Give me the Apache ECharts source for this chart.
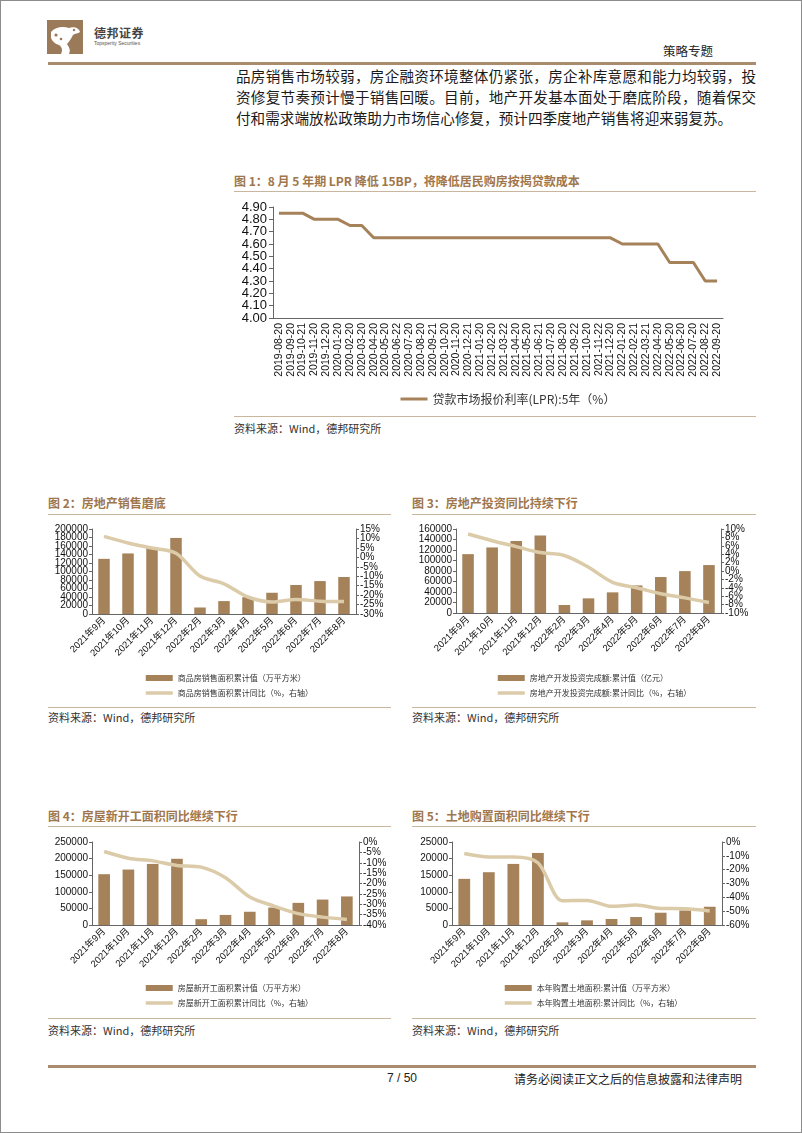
<!DOCTYPE html>
<html>
<head>
<meta charset="utf-8">
<script src="https://cdn.jsdelivr.net/npm/echarts@6/dist/echarts.min.js"></script>
<style>
  body { margin: 0; background: #fff; }
  #page { position: relative; width: 802px; height: 1133px; border: 1px solid #8c8c8c; box-sizing: border-box; overflow: hidden; font-family: 'Noto Sans CJK SC', sans-serif; color: #222; background: #fff; }
  .rule { position: absolute; height: 0; border-top: 3px solid #a98b6d; }
  .thin { position: absolute; height: 0; border-top: 1.5px solid #c9b69f; }
  .ftitle { position: absolute; font-size: 12px; font-weight: bold; color: #a0764c; white-space: nowrap; line-height: 14px; }
  .src { position: absolute; font-size: 11px; color: #333; line-height: 13px; white-space: nowrap; }
  .bline { position: absolute; left: 235px; width: 520px; font-size: 14.6px; line-height: 18px; color: #1a1a1a; }
  .just { text-align: justify; text-align-last: justify; }
  .chart { position: absolute; }
</style>
</head>
<body>
<div id="page">
  <!-- header -->
  <svg style="position:absolute;left:46px;top:19px" width="36" height="34" viewBox="0 0 36 34">
    <rect x="0" y="0" width="36" height="34" fill="#9b7a5a"/>
    <path d="M4 12 C8 7 16 6 22 8 C27 6 32 8 33 12 C31 14 28 13 26 15 C24 19 22 22 20 24 C22 27 24 30 22 34 L14 34 C16 30 15 27 12 25 C8 24 5 21 4 18 Z" fill="#fff"/>
    <circle cx="9" cy="15" r="1.6" fill="#9b7a5a"/>
    <circle cx="14" cy="19" r="1.3" fill="#9b7a5a"/>
    <circle cx="27" cy="10" r="1.2" fill="#9b7a5a"/>
  </svg>
  <div style="position:absolute;left:93px;top:25px;font-size:12px;font-weight:bold;color:#444;line-height:14px;letter-spacing:0.5px">德邦证券</div>
  <div style="position:absolute;left:93px;top:39px;font-size:5px;color:#555;line-height:6px;font-family:'Liberation Sans'">Topsperity Securities</div>
  <div style="position:absolute;left:662px;top:42px;font-size:12.5px;color:#222;line-height:15px">策略专题</div>
  <div class="rule" style="left:47px;top:61px;width:708px"></div>

  <div class="bline just" style="top:66px">品房销售市场较弱，房企融资环境整体仍紧张，房企补库意愿和能力均较弱，投</div>
  <div class="bline just" style="top:87px">资修复节奏预计慢于销售回暖。目前，地产开发基本面处于磨底阶段，随着保交</div>
  <div class="bline" style="top:108px">付和需求端放松政策助力市场信心修复，预计四季度地产销售将迎来弱复苏。</div>

  <!-- figure 1 -->
  <div class="ftitle" style="left:233px;top:173px">图 1：8 月 5 年期 LPR 降低 15BP，将降低居民购房按揭贷款成本</div>
  <div class="thin" style="left:233px;top:190px;width:522px"></div>
  <div id="c1" class="chart" style="left:225px;top:195px;width:540px;height:215px"></div>
  <div class="thin" style="left:233px;top:415px;width:522px"></div>
  <div class="src" style="left:233px;top:421px">资料来源：Wind，德邦研究所</div>

  <!-- figures 2 and 3 -->
  <div class="ftitle" style="left:47px;top:495px">图 2：房地产销售磨底</div>
  <div class="thin" style="left:47px;top:513px;width:343px"></div>
  <div id="c2" class="chart" style="left:40px;top:515px;width:360px;height:190px"></div>
  <div class="thin" style="left:47px;top:706px;width:343px"></div>
  <div class="src" style="left:47px;top:710px">资料来源：Wind，德邦研究所</div>

  <div class="ftitle" style="left:411px;top:495px">图 3：房地产投资同比持续下行</div>
  <div class="thin" style="left:411px;top:513px;width:344px"></div>
  <div id="c3" class="chart" style="left:405px;top:515px;width:370px;height:190px"></div>
  <div class="thin" style="left:411px;top:706px;width:344px"></div>
  <div class="src" style="left:411px;top:710px">资料来源：Wind，德邦研究所</div>

  <!-- figures 4 and 5 -->
  <div class="ftitle" style="left:47px;top:808px">图 4：房屋新开工面积同比继续下行</div>
  <div class="thin" style="left:47px;top:825px;width:343px"></div>
  <div id="c4" class="chart" style="left:40px;top:828px;width:360px;height:185px"></div>
  <div class="thin" style="left:47px;top:1017px;width:343px"></div>
  <div class="src" style="left:47px;top:1023px">资料来源：Wind，德邦研究所</div>

  <div class="ftitle" style="left:411px;top:808px">图 5：土地购置面积同比继续下行</div>
  <div class="thin" style="left:411px;top:825px;width:344px"></div>
  <div id="c5" class="chart" style="left:405px;top:828px;width:370px;height:185px"></div>
  <div class="thin" style="left:411px;top:1017px;width:344px"></div>
  <div class="src" style="left:411px;top:1023px">资料来源：Wind，德邦研究所</div>

  <!-- footer -->
  <div class="rule" style="left:47px;top:1064px;width:708px"></div>
  <div style="position:absolute;left:386px;top:1070px;font-size:12px;line-height:15px;font-family:'Liberation Sans';color:#222">7 / 50</div>
  <div style="position:absolute;left:513px;top:1070px;font-size:12px;line-height:15px;color:#222">请务必阅读正文之后的信息披露和法律声明</div>
</div>

<script>
// 图1 LPR
const lprDates = ['2019-08-20','2019-09-20','2019-10-21','2019-11-20','2019-12-20','2020-01-20','2020-02-20','2020-03-20',
  '2020-04-20','2020-05-20','2020-06-22','2020-07-20','2020-08-20','2020-09-21','2020-10-20','2020-11-20','2020-12-21',
  '2021-01-20','2021-02-20','2021-03-22','2021-04-20','2021-05-20','2021-06-21','2021-07-20','2021-08-20','2021-09-22',
  '2021-10-20','2021-11-22','2021-12-20','2022-01-20','2022-02-21','2022-03-21','2022-04-20','2022-05-20','2022-06-20',
  '2022-07-20','2022-08-22','2022-09-20'];
const lprValues = [4.85,4.85,4.85,4.80,4.80,4.80,4.75,4.75,
  4.65,4.65,4.65,4.65,4.65,4.65,4.65,4.65,4.65,
  4.65,4.65,4.65,4.65,4.65,4.65,4.65,4.65,4.65,
  4.65,4.65,4.65,4.60,4.60,4.60,4.60,4.45,4.45,
  4.45,4.30,4.30];
const lprTicks = [4.00,4.10,4.20,4.30,4.40,4.50,4.60,4.70,4.80,4.90];

// 图2-5 共用月份
const months = ['2021年9月','2021年10月','2021年11月','2021年12月','2022年2月','2022年3月',
  '2022年4月','2022年5月','2022年6月','2022年7月','2022年8月'];

const salesArea = [129800,142500,156700,179000,15300,30400,39500,50000,68200,77500,87000];
const salesYoy = [11.1,7.6,4.9,2.2,-9.9,-14.0,-21.0,-23.6,-22.3,-23.2,-23.4];
const salesTicksL = [0,20000,40000,60000,80000,100000,120000,140000,160000,180000,200000];
const salesTicksR = [-30,-25,-20,-15,-10,-5,0,5,10,15];

const investAmount = [112100,124900,137000,147400,15200,27900,39300,52500,68500,79800,91300];
const investYoy = [8.8,7.2,5.8,4.4,3.7,0.9,-2.7,-4.0,-5.4,-6.4,-7.5];
const investTicksL = [0,20000,40000,60000,80000,100000,120000,140000,160000];
const investTicksR = [-10,-8,-6,-4,-2,0,2,4,6,8,10];

const startArea = [153000,167000,184000,199500,17500,30300,39900,52600,66700,76600,86000];
const startYoy = [-4.6,-7.8,-9.1,-11.3,-12.1,-17.2,-26.5,-30.9,-34.5,-36.2,-37.3];
const startTicksL = [0,50000,100000,150000,200000,250000];
const startTicksR = [-40,-35,-30,-25,-20,-15,-10,-5,0];

const landArea = [13900,15900,18400,21700,800,1400,1800,2400,3700,4400,5500];
const landYoy = [-8.3,-10.8,-10.8,-15.0,-42.5,-42.2,-46.5,-45.5,-48.0,-48.2,-49.8];
const landTicksL = [0,5000,10000,15000,20000,25000];
const landTicksR = [-60,-50,-40,-30,-20,-10,0];

const BROWN = '#a5825a';
const BEIGE = '#dccba9';
const AXIS = '#666';
const NUM_FONT = "'Liberation Sans', Arial, sans-serif";
const CJK_FONT = "'Noto Sans CJK SC', sans-serif";

// legend entry for a plain line, without the marker circle
const lineLegend = (name, color, width) => ({
  name: name,
  itemStyle: { opacity: 0 },
  lineStyle: { color: color, width: width }
});

// Labels here sit closer than their own height, and ECharts drops some of them.
// Two stacked axes with the same scale: one labels the even ticks, the other the odd ones.
function pairedAxes(ticks, pos, fmt, fontSize, margin, tickLen) {
  const label = {
    fontSize: fontSize, color: '#111', fontFamily: NUM_FONT, margin: margin,
    formatter: fmt, showMinLabel: true, showMaxLabel: true, hideOverlap: false
  };
  const base = {
    type: 'value', position: pos,
    min: ticks[0], max: ticks[ticks.length - 1],
    splitLine: { show: false }
  };
  return [
    Object.assign({}, base, {
      axisLine: { show: true, lineStyle: { color: AXIS } },
      axisTick: { show: true, length: tickLen, customValues: ticks, lineStyle: { color: AXIS } },
      axisLabel: Object.assign({}, label, { customValues: ticks.filter((_, i) => i % 2 === 0) })
    }),
    Object.assign({}, base, {
      axisLine: { show: false },
      axisTick: { show: false },
      axisLabel: Object.assign({}, label, { customValues: ticks.filter((_, i) => i % 2 === 1) })
    })
  ];
}

const lprName = '贷款市场报价利率(LPR):5年（%）';
const lpr = echarts.init(document.getElementById('c1'));
lpr.setOption({
  animation: false,
  grid: { left: 47, top: 11, width: 450, height: 111 },
  legend: {
    left: 168, top: 192, itemWidth: 27, itemHeight: 10,
    textStyle: { fontSize: 12, color: '#333', fontFamily: CJK_FONT },
    data: [lineLegend(lprName, BROWN, 3)]
  },
  xAxis: {
    type: 'category',
    data: lprDates,
    axisLine: { lineStyle: { color: AXIS } },
    axisTick: { length: 4, lineStyle: { color: AXIS } },
    axisLabel: { interval: 0, rotate: 90, fontSize: 10.5, color: '#111', fontFamily: NUM_FONT, margin: 5 }
  },
  yAxis: pairedAxes(lprTicks, 'left', v => v.toFixed(2), 13, 6, 4),
  series: [{
    name: lprName,
    type: 'line',
    yAxisIndex: 0,
    data: lprValues,
    symbol: 'none',
    lineStyle: { width: 3, color: BROWN },
    itemStyle: { color: BROWN }
  }]
});

function combo(id, cfg) {
  const chart = echarts.init(document.getElementById(id));
  chart.setOption({
    animation: false,
    grid: cfg.grid,
    legend: {
      orient: 'vertical', left: cfg.legendLeft, top: cfg.legendTop,
      itemWidth: 27, itemHeight: 6, itemGap: 7,
      textStyle: { fontSize: 8, color: '#333', fontFamily: CJK_FONT },
      data: [{ name: cfg.barName, icon: 'rect' }, lineLegend(cfg.lineName, BEIGE, 3.5)]
    },
    xAxis: {
      type: 'category',
      data: months,
      axisLine: { lineStyle: { color: AXIS } },
      axisTick: { length: 3, lineStyle: { color: AXIS } },
      axisLabel: { interval: 0, rotate: 45, fontSize: 9.5, color: '#111', fontFamily: NUM_FONT + ", 'Noto Sans CJK SC'", margin: 5 }
    },
    yAxis: pairedAxes(cfg.ticksL, 'left', v => String(v), 10, 4, 3)
      .concat(pairedAxes(cfg.ticksR, 'right', v => v + '%', 10, 4, 3)),
    series: [
      {
        name: cfg.barName, type: 'bar', yAxisIndex: 0, data: cfg.bars, barWidth: '48%',
        itemStyle: { color: BROWN }
      },
      {
        name: cfg.lineName, type: 'line', yAxisIndex: 2, data: cfg.line,
        symbol: 'none', smooth: 0.3, z: 5,
        lineStyle: { width: 3.5, color: BEIGE }, itemStyle: { color: BEIGE }
      }
    ]
  });
}

combo('c2', {
  grid: { left: 51, top: 13, right: 45, height: 85 },
  legendLeft: 98, legendTop: 153,
  barName: '商品房销售面积累计值（万平方米）', lineName: '商品房销售面积累计同比（%，右轴）',
  bars: salesArea, line: salesYoy, ticksL: salesTicksL, ticksR: salesTicksR
});
combo('c3', {
  grid: { left: 50, top: 13, right: 55, height: 84 },
  legendLeft: 85, legendTop: 153,
  barName: '房地产开发投资完成额:累计值（亿元）', lineName: '房地产开发投资完成额:累计同比（%，右轴）',
  bars: investAmount, line: investYoy, ticksL: investTicksL, ticksR: investTicksR
});
combo('c4', {
  grid: { left: 51, top: 13, right: 42, height: 83 },
  legendLeft: 98, legendTop: 150,
  barName: '房屋新开工面积累计值（万平方米）', lineName: '房屋新开工面积累计同比（%，右轴）',
  bars: startArea, line: startYoy, ticksL: startTicksL, ticksR: startTicksR
});
combo('c5', {
  grid: { left: 46, top: 13, right: 54, height: 83 },
  legendLeft: 92, legendTop: 150,
  barName: '本年购置土地面积:累计值（万平方米）', lineName: '本年购置土地面积:累计同比（%，右轴）',
  bars: landArea, line: landYoy, ticksL: landTicksL, ticksR: landTicksR
});
</script>
</body>
</html>
